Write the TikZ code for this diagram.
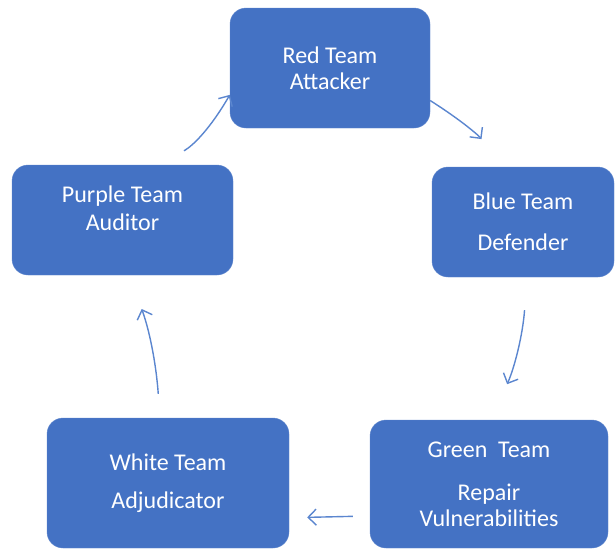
\documentclass[tikz,border=0pt]{standalone}
\usepackage{fontspec}
\setmainfont{Carlito}
\usetikzlibrary{arrows.meta}
\usepackage{xcolor}
\definecolor{teamblue}{HTML}{4472C4}
\definecolor{flowblue}{HTML}{5B86CF}

\begin{document}
\begin{tikzpicture}[x=1pt,y=-1pt,
  team/.style={fill=teamblue,draw=teamblue!85!white,rounded corners=16pt,
    text=white,align=center,font=\fontsize{24}{26}\selectfont,inner sep=0pt},
  flow/.style={-{Straight Barb[length=8pt,width=16pt]},flowblue,line width=1.4pt}]
  \useasboundingbox (0,0) rectangle (615,550);
  % Teams
  \node[team,minimum width=200pt,minimum height=120pt] (redteam) at (330,68) {Red Team\\Attacker};
  \node[team,minimum width=182pt,minimum height=110pt] (blueteam) at (523,222) {Blue Team\\[15pt]Defender};
  \node[team,minimum width=238pt,minimum height=128pt] (greenteam) at (489,484) {Green\ \ Team\\[17pt]Repair\\Vulnerabilities};
  \node[team,minimum width=242pt,minimum height=130pt] (whiteteam) at (168,483) {White Team\\[12pt]Adjudicator};
  \node[team,minimum width=221pt,minimum height=110pt,text depth=24pt] (purpleteam) at (122.5,220) {Purple Team\\[2pt]Auditor};
  % Cycle arrows
  \draw[flow,shorten <=28pt] (purpleteam.56) to[bend right=15] (redteam.195);
  \draw[flow,shorten >=35pt] (redteam.-18) to[bend left=10] (blueteam.110);
  \draw[flow,shorten <=33pt,shorten >=39pt] (blueteam.-86) to[bend left=10] (greenteam.88);
  \draw[flow,shorten <=17pt,shorten >=18pt] (greenteam.195) -- (whiteteam.-16);
  \draw[flow,shorten <=24pt,shorten >=36pt] (whiteteam.97) to[bend right=8] (purpleteam.-83);
\end{tikzpicture}
\end{document}
